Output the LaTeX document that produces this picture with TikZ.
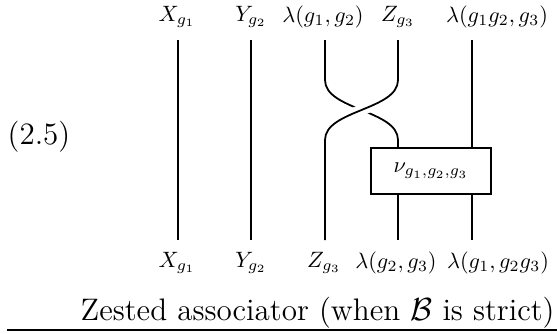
\documentclass[tikz,border=0pt]{standalone}
\usepackage{amsmath,amssymb}
\begin{document}
\begin{tikzpicture}[x=0.45pt,y=-0.45pt,
  strand/.style={line width=0.8pt},
  lbl/.style={inner sep=0pt},
  big/.style={inner sep=0pt,font=\fontsize{14}{16}\selectfont},
  morph/.style={draw,line width=0.8pt,minimum width=54pt,minimum height=20.7pt,inner sep=0pt}]
\useasboundingbox (0,0) rectangle (557,333);
% top labels
\node[lbl] (tX) at (177,17) {$X_{g_1}$};
\node[lbl] (tY) at (251,17) {$Y_{g_2}$};
\node[lbl] (tL) at (323,17) {$\lambda(g_1,g_2)$};
\node[lbl] (tZ) at (398,17) {$Z_{g_3}$};
\node[lbl] (tM) at (497,17) {$\lambda(g_1g_2,g_3)$};
% bottom labels
\node[lbl] (bX) at (177,263) {$X_{g_1}$};
\node[lbl] (bY) at (251,263) {$Y_{g_2}$};
\node[lbl] (bZ) at (324,263) {$Z_{g_3}$};
\node[lbl] (bL) at (396,263) {$\lambda(g_2,g_3)$};
\node[lbl] (bM) at (498,263) {$\lambda(g_1,g_2g_3)$};
% box
\node[morph] (nu) at (431,171) {$\nu_{g_1,g_2,g_3}$};
% coordinates
\coordinate (x1) at (178,40); \coordinate (x2) at (178,240);
\coordinate (y1) at (251,40); \coordinate (y2) at (251,240);
\coordinate (l1) at (325,40); \coordinate (l2) at (325,80);
\coordinate (z1) at (398,40); \coordinate (z2) at (398,80);
\coordinate (zc) at (325,140); \coordinate (zb) at (325,240);
\coordinate (lc) at (398,140);
\coordinate (m1) at (472,40);
\coordinate (o1) at (398,240); \coordinate (o2) at (472,240);
% straight strands
\draw[strand] (x1) -- (x2);
\draw[strand] (y1) -- (y2);
% under strand
\draw[strand] (l1) -- (l2) .. controls (325,110) and (398,110) .. (lc) -- (nu.north -| lc);
% over strand
\draw[white,line width=5pt] (z2) .. controls (398,110) and (325,110) .. (zc);
\draw[strand] (z1) -- (z2) .. controls (398,110) and (325,110) .. (zc) -- (zb);
% right strand
\draw[strand] (m1) -- (nu.north -| m1);
\draw[strand] (nu.south -| o1) -- (o1);
\draw[strand] (nu.south -| o2) -- (o2);
% equation number
\node[big] (eq) at (39,137) {(2.5)};
% caption
\node[big,anchor=east] (cap) at (555,313) {Zested associator (when $\mathcal{B}$ is strict)};
\coordinate (u1) at (7,330); \coordinate (u2) at (557,330);
\draw[line width=0.8pt] (u1) -- (u2);
\end{tikzpicture}
\end{document}
